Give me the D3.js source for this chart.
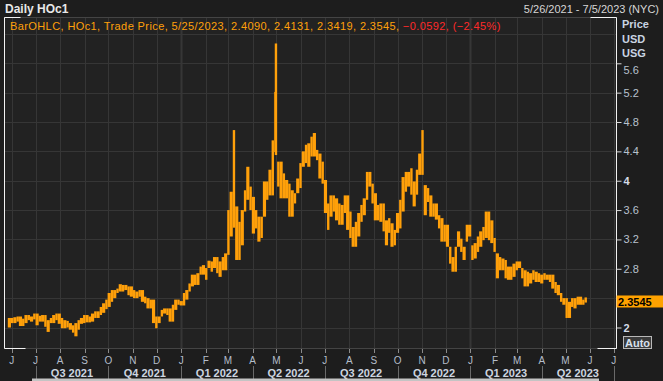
<!DOCTYPE html>
<html>
<head>
<meta charset="utf-8">
<script src="https://cdn.jsdelivr.net/npm/d3@7"></script>
<style>
    html, body { margin: 0; padding: 0; background: #1d1d1d; }
    svg { display: block; font-family: "Liberation Sans", Arial, sans-serif; }
</style>
</head>
<body>
<svg id="SVG_CONTAINER" width="663" height="381"></svg>
<script>
// bar dates (two samples a week) with the high / low
const dates = [
 "5/27/21","5/31/21","6/3/21","6/7/21","6/10/21","6/14/21","6/17/21","6/21/21","6/24/21","6/28/21",
 "7/1/21","7/5/21","7/8/21","7/12/21","7/15/21","7/19/21","7/22/21","7/26/21","7/29/21","8/2/21",
 "8/5/21","8/9/21","8/12/21","8/16/21","8/19/21","8/23/21","8/26/21","8/30/21","9/2/21","9/6/21",
 "9/9/21","9/13/21","9/16/21","9/20/21","9/23/21","9/27/21","9/30/21","10/4/21","10/7/21","10/11/21",
 "10/14/21","10/18/21","10/21/21","10/25/21","10/28/21","11/1/21","11/4/21","11/8/21","11/11/21","11/15/21",
 "11/18/21","11/22/21","11/25/21","11/29/21","12/2/21","12/6/21","12/9/21","12/13/21","12/16/21","12/20/21",
 "12/23/21","12/27/21","12/30/21","1/3/22","1/6/22","1/10/22","1/13/22","1/17/22","1/20/22","1/24/22",
 "1/27/22","1/31/22","2/3/22","2/7/22","2/10/22","2/14/22","2/17/22","2/21/22","2/24/22","2/28/22",
 "3/3/22","3/7/22","3/10/22","3/14/22","3/17/22","3/21/22","3/24/22","3/28/22","3/31/22","4/4/22",
 "4/7/22","4/11/22","4/14/22","4/18/22","4/21/22","4/25/22","4/28/22","4/29/22","5/2/22","5/5/22",
 "5/9/22","5/12/22","5/16/22","5/19/22","5/23/22","5/26/22","5/30/22","6/2/22","6/6/22","6/9/22",
 "6/13/22","6/16/22","6/20/22","6/23/22","6/27/22","6/30/22","7/4/22","7/7/22","7/11/22","7/14/22",
 "7/18/22","7/21/22","7/25/22","7/28/22","8/1/22","8/4/22","8/8/22","8/11/22","8/15/22","8/18/22",
 "8/22/22","8/25/22","8/29/22","9/1/22","9/5/22","9/8/22","9/12/22","9/15/22","9/19/22","9/22/22",
 "9/26/22","9/29/22","10/3/22","10/6/22","10/10/22","10/13/22","10/17/22","10/20/22","10/24/22","10/27/22",
 "10/31/22","11/3/22","11/7/22","11/10/22","11/14/22","11/17/22","11/21/22","11/24/22","11/28/22","12/1/22",
 "12/5/22","12/8/22","12/12/22","12/15/22","12/19/22","12/22/22","12/26/22","12/29/22","1/2/23","1/5/23",
 "1/9/23","1/12/23","1/16/23","1/19/23","1/23/23","1/26/23","1/30/23","2/2/23","2/6/23","2/9/23",
 "2/13/23","2/16/23","2/20/23","2/23/23","2/27/23","3/2/23","3/6/23","3/9/23","3/13/23","3/16/23",
 "3/20/23","3/23/23","3/27/23","3/30/23","4/3/23","4/6/23","4/10/23","4/13/23","4/17/23","4/20/23",
 "4/24/23","4/27/23","5/1/23","5/4/23","5/8/23","5/11/23","5/15/23","5/18/23","5/22/23","5/25/23"
];
const highs = [
 2.13,2.13,2.14,2.15,2.15,2.12,2.17,2.17,2.15,2.19,
 2.19,2.16,2.17,2.17,2.10,2.13,2.17,2.19,2.19,2.13,
 2.10,2.09,2.06,2.03,2.06,2.10,2.13,2.17,2.17,2.15,
 2.19,2.22,2.22,2.28,2.33,2.38,2.47,2.51,2.51,2.53,
 2.59,2.58,2.58,2.56,2.56,2.51,2.49,2.51,2.51,2.42,
 2.40,2.38,2.38,2.15,2.15,2.24,2.26,2.26,2.26,2.31,
 2.38,2.38,2.36,2.47,2.51,2.60,2.72,2.72,2.74,2.83,
 2.85,2.81,2.91,2.90,2.96,2.96,2.90,2.96,3.01,3.60,
 3.85,4.69,3.65,3.44,3.60,3.87,4.19,3.92,3.78,3.60,
 3.51,3.51,3.99,3.99,4.15,4.55,5.21,5.87,4.26,4.26,
 4.10,4.01,3.96,3.87,3.83,4.03,4.24,4.40,4.49,4.51,
 4.60,4.65,4.42,4.37,4.26,4.01,3.69,3.80,3.80,3.76,
 3.69,3.67,3.80,3.80,3.58,3.37,3.44,3.56,3.67,3.76,
 4.12,4.12,3.96,3.83,3.67,3.69,3.69,3.46,3.49,3.42,
 3.33,3.56,3.74,4.05,4.12,4.12,4.17,3.99,4.15,4.37,
 4.69,3.94,3.90,3.80,3.69,3.69,3.53,3.49,3.40,3.40,
 3.10,2.96,3.10,3.31,3.21,3.10,3.40,3.40,3.12,3.15,
 3.24,3.31,3.37,3.58,3.58,3.46,3.22,3.01,2.96,2.94,
 2.92,2.83,2.83,2.87,2.90,2.90,2.81,2.78,2.76,2.74,
 2.78,2.76,2.74,2.72,2.74,2.72,2.72,2.72,2.62,2.58,
 2.47,2.40,2.40,2.35,2.40,2.40,2.42,2.42,2.38,2.41
];
const lows = [
 2.00,2.06,2.06,2.08,2.02,2.02,2.06,2.10,2.08,2.11,
 2.03,2.08,2.08,2.01,1.94,2.06,2.06,2.10,2.05,1.99,
 1.99,2.00,1.97,1.93,1.88,1.97,2.05,2.06,2.07,2.07,
 2.08,2.13,2.13,2.17,2.20,2.25,2.28,2.35,2.40,2.47,
 2.49,2.49,2.51,2.44,2.42,2.40,2.40,2.42,2.35,2.33,
 2.26,2.26,2.06,1.99,2.06,2.15,2.19,2.17,2.08,2.08,
 2.24,2.31,2.30,2.30,2.38,2.49,2.56,2.58,2.58,2.72,
 2.72,2.65,2.81,2.76,2.81,2.74,2.69,2.78,2.78,2.99,
 3.24,3.36,2.92,2.92,3.12,3.58,3.74,3.60,3.28,3.35,
 3.17,3.22,3.51,3.74,3.80,3.80,4.39,4.35,3.92,3.76,
 3.76,3.76,3.51,3.51,3.69,3.83,3.90,4.19,4.24,4.19,
 4.33,4.33,4.28,4.03,3.96,3.56,3.33,3.51,3.58,3.46,
 3.40,3.40,3.56,3.33,3.22,3.10,3.10,3.24,3.44,3.53,
 3.74,3.92,3.69,3.46,3.46,3.44,3.31,3.12,3.29,3.10,
 3.12,3.29,3.35,3.58,3.85,3.92,3.81,3.65,3.81,4.08,
 4.08,3.53,3.71,3.51,3.51,3.47,3.35,3.17,3.17,3.10,
 2.87,2.76,2.76,3.10,3.03,2.92,3.17,3.24,2.92,2.94,
 3.03,3.10,3.19,3.22,3.19,3.15,3.03,2.67,2.78,2.78,
 2.67,2.65,2.65,2.69,2.78,2.81,2.67,2.56,2.56,2.60,
 2.65,2.62,2.62,2.60,2.65,2.65,2.62,2.53,2.47,2.44,
 2.35,2.31,2.13,2.13,2.28,2.26,2.31,2.31,2.31,2.34
];

// last bar shown in the legend
const lastDate = "5/25/2023";
const lastOpen = 2.4090, lastHigh = 2.4131, lastLow = 2.3419, lastClose = 2.3545;
const lastChange = -0.0592, lastPct = -2.45;

const yTicks = [2, 2.4, 2.8, 3.2, 3.6, 4, 4.4, 4.8, 5.2, 5.6, 6];
const yLabelTicks = [2, 2.8, 3.2, 3.6, 4, 4.4, 4.8, 5.2, 5.6];
const quarterStarts = ["7/1/21","10/1/21","1/1/22","4/1/22","7/1/22","10/1/22","1/1/23","4/1/23","7/1/23"];
const quarterNames = ["Q3 2021","Q4 2021","Q1 2022","Q2 2022","Q3 2022","Q4 2022","Q1 2023","Q2 2023"];
const unitLabels = ["Price", "USD", "USG"];

const ORANGE = "#ffa00a";
const PLOT = {LEFT: 4.5, RIGHT: 616.5, TOP: 17.5, BOTTOM: 348.5};

const parse = d3.timeParse("%m/%d/%y");
const svg = d3.select("#SVG_CONTAINER");

// scales
const x = d3.scaleTime()
    .domain([new Date(2021, 4, 26), new Date(2023, 6, 5)])
    .range([7, 617]);
const y = d3.scaleLinear()
    .domain([2, 5.6])
    .range([327.5, 63.3]);

svg.append("rect").attr("width", 663).attr("height", 381).attr("fill", "#1d1d1d");

// plot background
svg.append("rect")
    .attr("x", PLOT.LEFT).attr("y", PLOT.TOP)
    .attr("width", PLOT.RIGHT - PLOT.LEFT).attr("height", PLOT.BOTTOM - PLOT.TOP)
    .attr("fill", "#222222");

svg.append("clipPath").attr("id", "plotClip")
    .append("rect")
    .attr("x", PLOT.LEFT).attr("y", PLOT.TOP)
    .attr("width", PLOT.RIGHT - PLOT.LEFT).attr("height", PLOT.BOTTOM - PLOT.TOP);

const plot = svg.append("g").attr("clip-path", "url(#plotClip)");

// grid
const months = d3.timeMonth.range(new Date(2021, 5, 1), new Date(2023, 6, 2));
plot.selectAll(".hgrid")
    .data(yTicks)
    .enter().append("line")
    .attr("x1", PLOT.LEFT).attr("x2", PLOT.RIGHT)
    .attr("y1", d => Math.round(y(d)) + 0.5).attr("y2", d => Math.round(y(d)) + 0.5)
    .attr("stroke", "#363636");
plot.selectAll(".vgrid")
    .data(months)
    .enter().append("line")
    .attr("x1", d => Math.round(x(d)) + 0.5).attr("x2", d => Math.round(x(d)) + 0.5)
    .attr("y1", PLOT.TOP).attr("y2", PLOT.BOTTOM)
    .attr("stroke", "#363636")
    .attr("stroke-width", d => d.getMonth() === 0 ? 2 : 1);

// price bars, each running up to the next sample
const bars = dates.map((d, i) => ({date: parse(d), high: highs[i], low: lows[i]}));
plot.selectAll(".bar")
    .data(bars)
    .enter().append("rect")
    .attr("x", d => x(d.date))
    .attr("width", (d, i) => i < bars.length - 1 ? x(bars[i + 1].date) - x(d.date) : 2.4)
    .attr("y", d => y(d.high))
    .attr("height", d => Math.max(1, y(d.low) - y(d.high)))
    .attr("fill", ORANGE);

// frame: grey box with white sides and corners
svg.append("rect")
    .attr("x", PLOT.LEFT).attr("y", PLOT.TOP)
    .attr("width", PLOT.RIGHT - PLOT.LEFT).attr("height", PLOT.BOTTOM - PLOT.TOP)
    .attr("fill", "none").attr("stroke", "#444");
const white = svg.append("g").attr("stroke", "#f2f2f2").attr("fill", "none");
white.append("path").attr("d",
    "M" + PLOT.LEFT + "," + PLOT.BOTTOM + "V" + PLOT.TOP + "H" + (PLOT.LEFT + 16) +
    "M" + PLOT.LEFT + "," + PLOT.BOTTOM + "H" + (PLOT.LEFT + 21));
white.append("path").attr("d",
    "M" + PLOT.RIGHT + "," + PLOT.BOTTOM + "V" + PLOT.TOP + "H" + (PLOT.RIGHT - 26) +
    "M" + PLOT.RIGHT + "," + PLOT.BOTTOM + "H" + (PLOT.RIGHT - 19));

// header
svg.append("text")
    .attr("x", 5).attr("y", 13)
    .attr("font-size", "12px").attr("font-weight", "bold").attr("fill", "#e8e8e8")
    .text("Daily HOc1");
svg.append("text")
    .attr("x", 659).attr("y", 13)
    .attr("text-anchor", "end")
    .attr("font-size", "11px").attr("fill", "#d6d6d6")
    .text("5/26/2021 - 7/5/2023 (NYC)");

// legend line
const f4 = d3.format(".4f");
const legend = svg.append("text")
    .attr("x", 10).attr("y", 30)
    .attr("font-size", "11px")
    .attr("letter-spacing", "0.4px");
legend.append("tspan").attr("fill", ORANGE)
    .text("BarOHLC, HOc1, Trade Price,  " + lastDate + ", " + f4(lastOpen) + ", " + f4(lastHigh) + ", " +
        f4(lastLow) + ", " + f4(lastClose) + ", ");
legend.append("tspan").attr("fill", "#ff2a2a")
    .text(f4(lastChange) + ", (" + d3.format(".2f")(lastPct) + "%)");

// right axis
const yAxis = svg.append("g")
    .attr("transform", "translate(" + PLOT.RIGHT + ",0)")
    .call(d3.axisRight(y).tickValues(yLabelTicks).tickSize(5).tickPadding(2).tickFormat(d3.format("~g")));
yAxis.select(".domain").remove();
yAxis.selectAll(".tick line").attr("stroke", "#d8d8d8");
yAxis.selectAll(".tick text")
    .attr("fill", d => Number.isInteger(d) ? "#d4dce8" : "#b9c2ce")
    .attr("font-weight", d => Number.isInteger(d) ? "bold" : "normal")
    .attr("font-size", "11px")
    .attr("font-family", "Liberation Sans, Arial, sans-serif")
    .attr("dy", d => d === 5.6 ? "0.9em" : "0.32em");

svg.selectAll(".unit")
    .data(unitLabels)
    .enter().append("text")
    .attr("x", 622).attr("y", (d, i) => 28 + i * 14.7)
    .attr("font-size", "11px").attr("font-weight", "bold").attr("fill", "#c9d4e2")
    .text(d => d);

// last price tag
svg.append("rect")
    .attr("x", PLOT.RIGHT).attr("y", y(lastClose) - 6)
    .attr("width", 663 - PLOT.RIGHT).attr("height", 12)
    .attr("fill", "#ffa200");
svg.append("text")
    .attr("x", 618).attr("y", y(lastClose) + 4.5)
    .attr("font-size", "11px").attr("font-weight", "bold").attr("fill", "#000")
    .text(d3.format(".4f")(lastClose));

// Auto button
svg.append("rect")
    .attr("x", 623.5).attr("y", 336.5).attr("width", 28).attr("height", 12)
    .attr("fill", "#3a3a3a").attr("stroke", "#b8b8b8");
svg.append("text")
    .attr("x", 637.5).attr("y", 346.5).attr("text-anchor", "middle")
    .attr("font-size", "11px").attr("font-weight", "bold").attr("fill", "#d8e0ec")
    .text("Auto");

// bottom axis: months
const monthFmt = d3.timeFormat("%b");
svg.selectAll(".mtick")
    .data(months)
    .enter().append("line")
    .attr("x1", d => Math.round(x(d)) + 0.5).attr("x2", d => Math.round(x(d)) + 0.5)
    .attr("y1", 349).attr("y2", 353)
    .attr("stroke", "#8a8a8a");
svg.selectAll(".mlabel")
    .data(months)
    .enter().append("text")
    .attr("x", d => x(d)).attr("y", 364)
    .attr("text-anchor", "middle")
    .attr("font-size", "10px").attr("fill", "#b4bdca")
    .text(d => monthFmt(d)[0]);

// bottom axis: quarters
const qDates = quarterStarts.map(parse);
svg.selectAll(".qsep")
    .data(qDates)
    .enter().append("line")
    .attr("x1", d => Math.round(x(d)) + 0.5).attr("x2", d => Math.round(x(d)) + 0.5)
    .attr("y1", 366).attr("y2", 381)
    .attr("stroke", "#6a6a6a");
svg.selectAll(".qlabel")
    .data(quarterNames)
    .enter().append("text")
    .attr("x", (d, i) => (x(qDates[i]) + x(qDates[i + 1])) / 2).attr("y", 377)
    .attr("text-anchor", "middle")
    .attr("font-size", "11px").attr("font-weight", "bold").attr("fill", "#cdd5e0")
    .text(d => d);

// scroll bar
svg.append("rect")
    .attr("x", 32).attr("y", 378.5).attr("width", 567).attr("height", 2.5)
    .attr("fill", "#c4c4c4");
</script>
</body>
</html>
